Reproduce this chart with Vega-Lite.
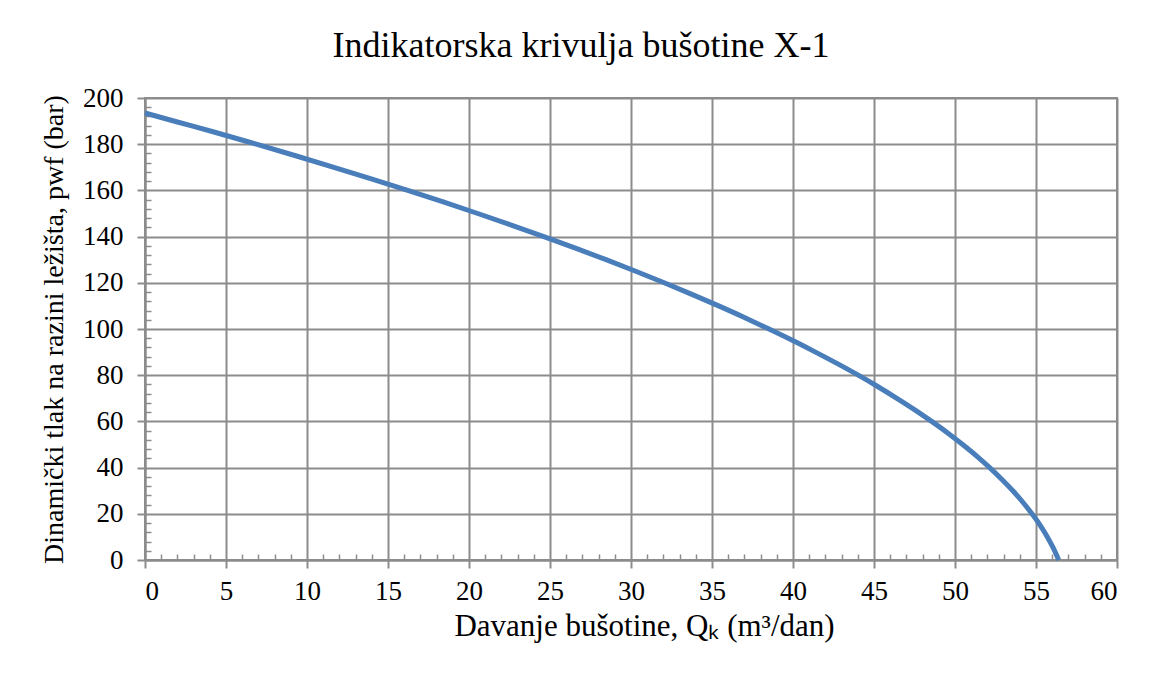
{
  "$schema": "https://vega.github.io/schema/vega-lite/v6.json",
  "width": 972,
  "height": 462,
  "autosize": "none",
  "padding": {"left": 145, "top": 98, "right": 36, "bottom": 115},
  "background": "white",
  "title": {"text": "Indikatorska krivulja bušotine X-1", "font": "Liberation Serif", "fontSize": 36, "fontWeight": "normal", "color": "#000000", "offset": 19, "dx": -50},
  "config": {
    "view": {"stroke": "#8c8c8c", "strokeWidth": 2},
    "axis": {"labelFont": "Liberation Serif", "titleFont": "Liberation Serif", "labelColor": "#000000", "titleColor": "#000000", "titleFontWeight": "normal", "titleLimit": 2000}
  },
  "data": {"values": [
    {"q": 0, "p": 193.5},
    {"q": 2.0, "p": 189.6},
    {"q": 4.2, "p": 185.4},
    {"q": 6.87, "p": 180},
    {"q": 9.3, "p": 175},
    {"q": 11.66, "p": 170},
    {"q": 13.97, "p": 165},
    {"q": 16.22, "p": 160},
    {"q": 18.41, "p": 155},
    {"q": 20.54, "p": 150},
    {"q": 22.61, "p": 145},
    {"q": 24.62, "p": 140},
    {"q": 26.57, "p": 135},
    {"q": 28.46, "p": 130},
    {"q": 30.29, "p": 125},
    {"q": 32.05, "p": 120},
    {"q": 33.76, "p": 115},
    {"q": 35.41, "p": 110},
    {"q": 37.0, "p": 105},
    {"q": 38.52, "p": 100},
    {"q": 39.99, "p": 95},
    {"q": 41.39, "p": 90},
    {"q": 42.74, "p": 85},
    {"q": 44.03, "p": 80},
    {"q": 45.25, "p": 75},
    {"q": 46.41, "p": 70},
    {"q": 47.52, "p": 65},
    {"q": 48.56, "p": 60},
    {"q": 49.55, "p": 55},
    {"q": 50.47, "p": 50},
    {"q": 51.34, "p": 45},
    {"q": 52.14, "p": 40},
    {"q": 52.88, "p": 35},
    {"q": 53.57, "p": 30},
    {"q": 54.19, "p": 25},
    {"q": 54.75, "p": 20},
    {"q": 55.26, "p": 15},
    {"q": 55.70, "p": 10},
    {"q": 56.08, "p": 5},
    {"q": 56.4, "p": 0}
  ]},
  "resolve": {"axis": {"x": "independent", "y": "independent"}},
  "layer": [
    {
      "mark": {"type": "line", "opacity": 0},
      "encoding": {
        "x": {"field": "q", "type": "quantitative", "scale": {"domain": [0, 60], "nice": false},
          "axis": {"orient": "bottom", "values": [1,2,3,4,6,7,8,9,11,12,13,14,16,17,18,19,21,22,23,24,26,27,28,29,31,32,33,34,36,37,38,39,41,42,43,44,46,47,48,49,51,52,53,54,56,57,58,59], "labels": false, "grid": false, "domain": false, "tickSize": -6, "tickColor": "#8c8c8c", "tickWidth": 1.5, "title": null}},
        "y": {"field": "p", "type": "quantitative", "scale": {"domain": [0, 200], "nice": false},
          "axis": {"orient": "left", "values": [4,8,12,16,24,28,32,36,44,48,52,56,64,68,72,76,84,88,92,96,104,108,112,116,124,128,132,136,144,148,152,156,164,168,172,176,184,188,192,196], "labels": false, "grid": false, "domain": false, "tickSize": -6, "tickColor": "#8c8c8c", "tickWidth": 1.5, "title": null}}
      }
    },
    {
      "mark": {"type": "line", "color": "#4a7ebb", "strokeWidth": 5, "interpolate": "monotone"},
      "encoding": {
        "x": {"field": "q", "type": "quantitative", "scale": {"domain": [0, 60], "nice": false},
          "axis": {"orient": "bottom", "values": [0,5,10,15,20,25,30,35,40,45,50,55,60], "grid": true, "gridColor": "#8c8c8c", "gridWidth": 2, "gridOpacity": 1, "domainColor": "#8c8c8c", "domainWidth": 2, "tickColor": "#8c8c8c", "tickWidth": 2, "tickSize": 8, "labelFontSize": 27, "labelPadding": 10, "title": "Davanje bušotine, Qₖ (m³/dan)", "titleFontSize": 31, "titlePadding": 7, "titleX": 499}},
        "y": {"field": "p", "type": "quantitative", "scale": {"domain": [0, 200], "nice": false},
          "axis": {"orient": "left", "values": [0,20,40,60,80,100,120,140,160,180,200], "grid": true, "gridColor": "#8c8c8c", "gridWidth": 2, "gridOpacity": 1, "domainColor": "#8c8c8c", "domainWidth": 2, "tickColor": "#8c8c8c", "tickWidth": 2, "tickSize": 8, "labelFontSize": 27, "labelPadding": 14, "title": "Dinamički tlak na razini ležišta, pwf (bar)", "titleFontSize": 28, "titlePadding": 14}}
      }
    }
  ]
}
